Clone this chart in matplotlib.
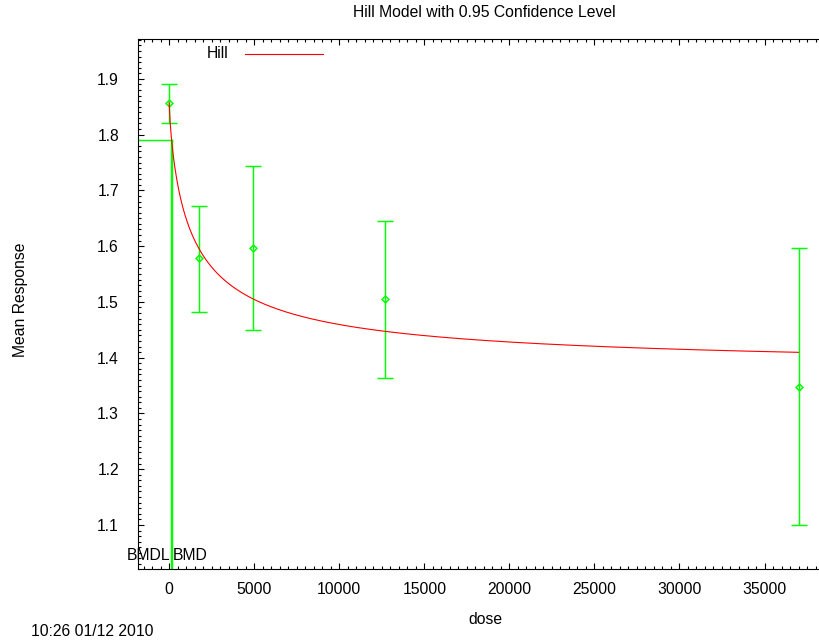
import numpy as np
import matplotlib.pyplot as plt
from matplotlib.ticker import MultipleLocator

plt.rcParams['font.family'] = ['Liberation Sans', 'DejaVu Sans']

# dose groups, observed means and 95% confidence limits
dose = [0, 1740, 4930, 12680, 37000]
mean_resp = [1.857, 1.578, 1.597, 1.505, 1.348]
lower_cl = [1.821, 1.482, 1.449, 1.363, 1.100]
upper_cl = [1.891, 1.672, 1.744, 1.645, 1.597]

# fitted Hill model parameters
hill_intercept = 1.857
hill_v = -0.48
hill_n = 0.8
hill_k = 1400.0

# benchmark dose results
bmr_level = 1.791
bmd = 190
bmdl = 100

xmin, xmax = -1850, 38850
ymin, ymax = 1.021, 1.971
fs = 11.3
lw = 0.8
glw = 1.05


def hill(d):
    dn = np.power(d, hill_n)
    return hill_intercept + hill_v * dn / (hill_k ** hill_n + dn)


fig = plt.figure(figsize=(8.19, 6.43), dpi=100)
ax = fig.add_axes([137.7 / 819, 74 / 643, (830 - 137.7) / 819, (569 - 39.3) / 643])

green = '#00ff00'
err_lo = np.array(mean_resp) - np.array(lower_cl)
err_hi = np.array(upper_cl) - np.array(mean_resp)
ax.errorbar(dose, mean_resp, yerr=[err_lo, err_hi], fmt='D', color=green,
            mfc='none', mec=green, ms=3.5, mew=glw, elinewidth=glw,
            capsize=6.1, capthick=glw, zorder=3)

# model curve
dd = np.linspace(0, max(dose), 600)
ax.plot(dd, hill(dd), color='#ff0000', lw=lw, zorder=4)

# BMD / BMDL markers
ax.plot([xmin, bmd], [bmr_level, bmr_level], color=green, lw=glw)
ax.plot([bmd, bmd], [ymin, bmr_level], color=green, lw=glw)
ax.plot([bmdl, bmdl], [ymin, bmr_level], color=green, lw=glw)
ax.annotate('BMDL', (bmdl, ymin), xytext=(-0.5, 4), textcoords='offset points',
            ha='right', va='bottom', fontsize=fs)
ax.annotate('BMD', (bmd, ymin), xytext=(0.5, 4), textcoords='offset points',
            ha='left', va='bottom', fontsize=fs)

ax.set_xlim(xmin, xmax)
ax.set_ylim(ymin, ymax)
ax.xaxis.set_major_locator(MultipleLocator(5000))
ax.xaxis.set_minor_locator(MultipleLocator(500))
ax.yaxis.set_major_locator(MultipleLocator(0.1))
ax.yaxis.set_minor_locator(MultipleLocator(0.01))
ax.tick_params(which='both', direction='in', top=True, right=True, labelsize=fs)
ax.tick_params(axis='x', pad=9)
ax.tick_params(axis='y', pad=13.5)
ax.tick_params(which='major', length=4.3, width=lw)
ax.tick_params(which='minor', length=2.2, width=lw)
ax.set_xticks(range(0, 40000, 5000))
ax.set_xticklabels([str(v) for v in range(0, 40000, 5000)])
for sp in ax.spines.values():
    sp.set_linewidth(lw)

ax.set_xlabel('dose', fontsize=fs)
ax.xaxis.set_label_coords(0.5017, -0.081)
ax.set_ylabel('Mean Response', fontsize=fs, va='center')
ax.yaxis.set_label_coords(-0.170, 0.508)
ax.set_title('Hill Model with 0.95 Confidence Level', fontsize=fs, y=1.0497, va='center', pad=0)

# legend drawn gnuplot-style inside the top left
fig.text(229 / 819, 1 - 54 / 643, 'Hill', ha='right', va='center', fontsize=fs)
fig.add_artist(plt.Line2D([245 / 819, 323 / 819], [1 - 54 / 643, 1 - 54 / 643],
                          color='#ff0000', lw=lw))

fig.text(31 / 819, 1 - 632 / 643, '10:26 01/12 2010', ha='left', va='center', fontsize=fs)

fig.savefig('out.png', dpi=100)
